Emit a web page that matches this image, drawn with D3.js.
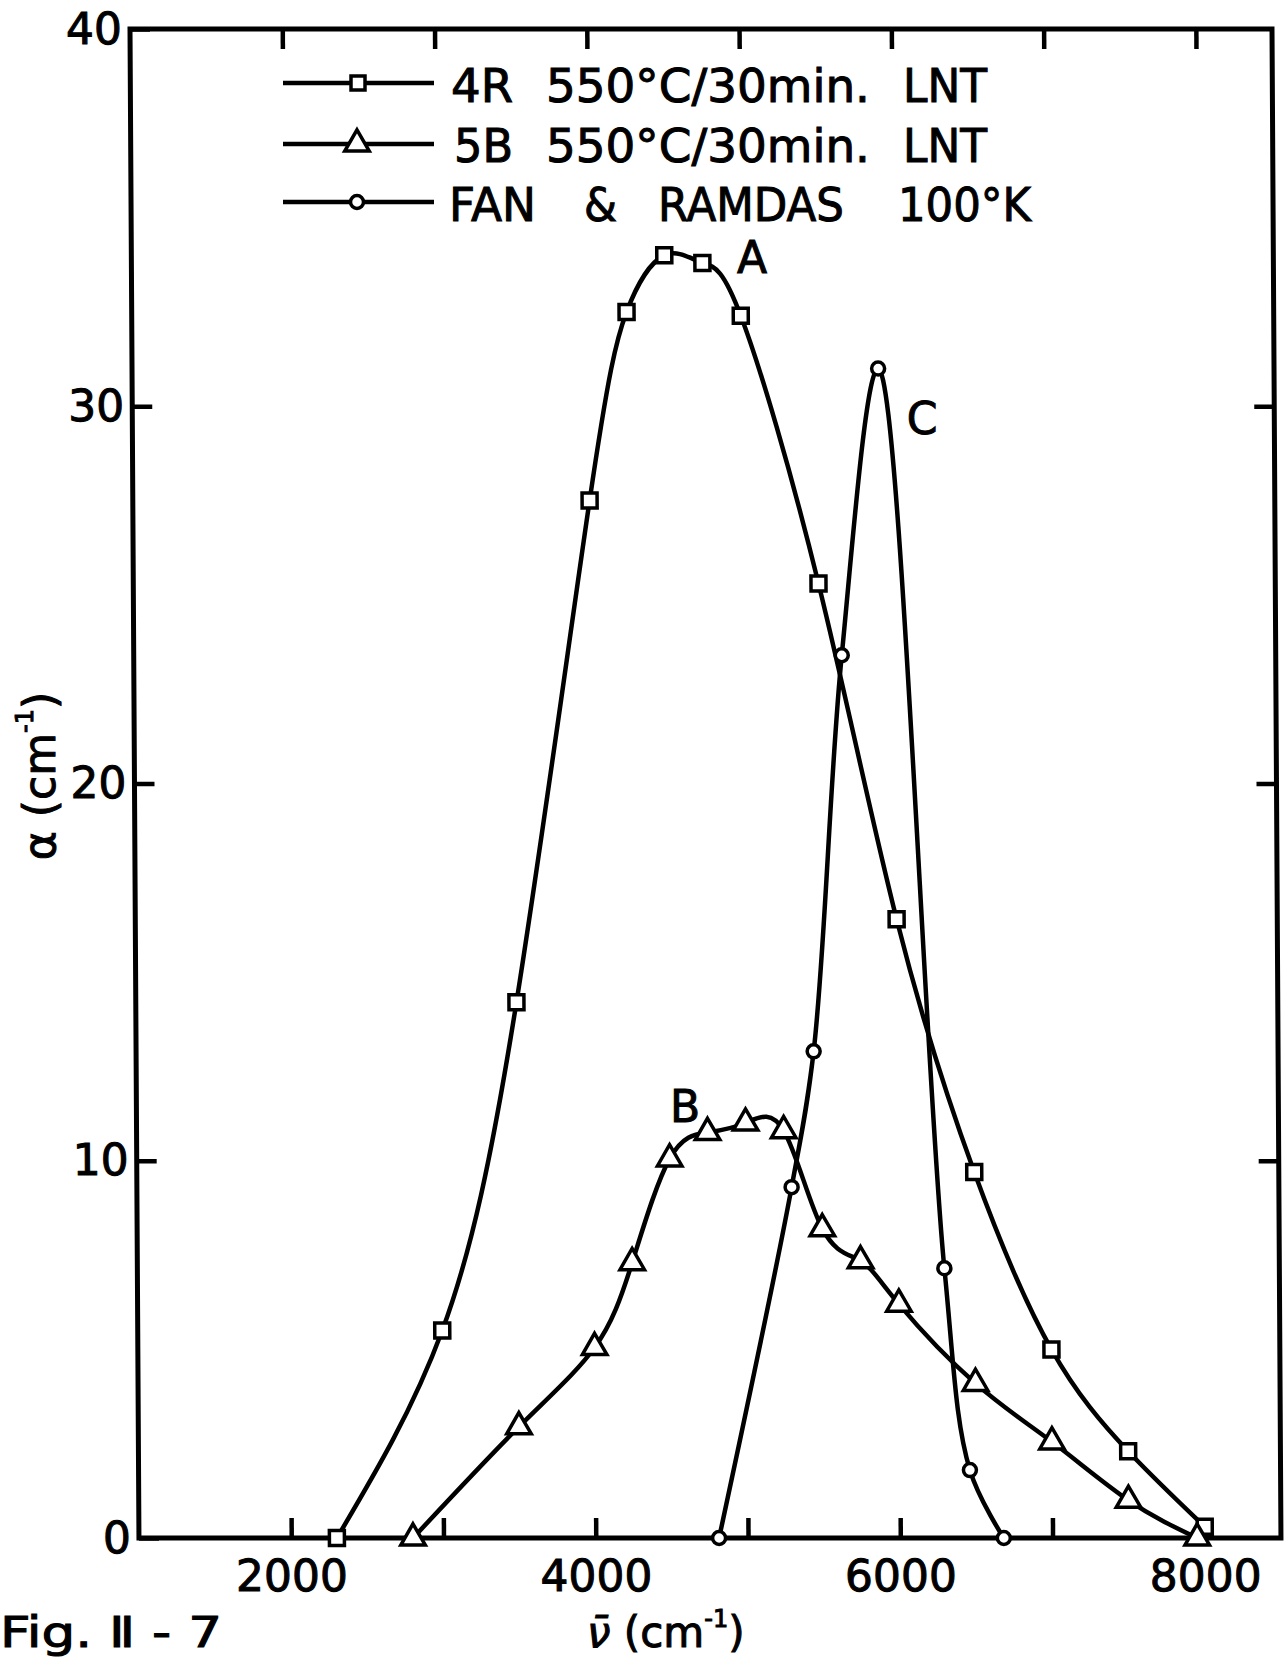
<!DOCTYPE html>
<html>
<head>
<meta charset="utf-8">
<script src="https://cdn.jsdelivr.net/npm/d3@7"></script>
<style>
  body { margin: 0; background: #fff; }
  text { font-family: "DejaVu Sans", sans-serif; fill: #000; stroke: #000; stroke-width: 1; }
</style>
</head>
<body>
<svg id="chart" width="1287" height="1659"></svg>
<script>
// tick values
const xTicks = [2000, 3000, 4000, 5000, 6000, 7000, 8000];
const xLabels = [2000, 4000, 6000, 8000];
const yTicks = [0, 10, 20, 30, 40];
const yTicksRight = [10, 20, 30];

// 4R 550°C/30min. LNT  (curve A, squares)
const nuA = [2300, 3000, 3500, 4000, 4250, 4500, 4750, 5000, 5500, 6000, 6500, 7000, 7500, 8000];
const alphaA = [0, 5.5, 14.2, 27.5, 32.5, 34.0, 33.8, 32.4, 25.3, 16.4, 9.7, 5.0, 2.3, 0.3];

// 5B 550°C/30min. LNT  (curve B, triangles)
const nuB = [2800, 3500, 4000, 4250, 4500, 4750, 5000, 5250, 5500, 5750, 6000, 6500, 7000, 7500, 7950];
const alphaB = [0, 2.95, 5.05, 7.3, 10.05, 10.75, 11.0, 10.8, 8.2, 7.35, 6.2, 4.1, 2.55, 1.0, 0];

// FAN & RAMDAS 100°K  (curve C, circles)
const nuC = [4810, 5300, 5450, 5650, 5900, 6300, 6460, 6680];
const alphaC = [0, 9.3, 12.9, 23.4, 31.0, 7.15, 1.8, 0];

const svg = d3.select("#chart");

let x = d3.scaleLinear().domain([1000, 8500]).range([130, 1272]);
let y = d3.scaleLinear().domain([0, 40]).range([1538, 29]);

// the scanned frame leans a little to the right towards the bottom
let plot = svg.append("g")
    .attr("transform", "translate(0,29) skewX(0.34) translate(0,-29)");

function styleAxis(g, labels) {
    g.select(".domain").remove();
    g.selectAll(".tick line").attr("stroke", "#000").attr("stroke-width", 4.5);
    g.selectAll(".tick text")
        .attr("font-family", "DejaVu Sans, sans-serif")
        .attr("font-size", labels ? 44 : 0)
        .attr("fill", "#000");
    g.attr("font-size", null).attr("font-family", null);
}

plot.append("g")
    .attr("transform", `translate(0,${y(0)})`)
    .call(d3.axisBottom(x).tickValues(xTicks).tickSize(-20).tickPadding(22)
        .tickFormat(d => xLabels.includes(d) ? d : ""))
    .call(g => styleAxis(g, true));

plot.append("g")
    .attr("transform", `translate(0,${y(40)})`)
    .call(d3.axisTop(x).tickValues(xTicks).tickSize(-20).tickFormat(""))
    .call(g => styleAxis(g, false));

plot.append("g")
    .attr("transform", `translate(${x(1000)},0)`)
    .call(d3.axisLeft(y).tickValues(yTicks).tickSize(-20).tickPadding(8))
    .call(g => styleAxis(g, true));

plot.append("g")
    .attr("transform", `translate(${x(8500)},0)`)
    .call(d3.axisRight(y).tickValues(yTicksRight).tickSize(-20).tickFormat(""))
    .call(g => styleAxis(g, false));

// frame
plot.append("rect")
    .attr("x", x(1000))
    .attr("y", y(40))
    .attr("width", x(8500) - x(1000))
    .attr("height", y(0) - y(40))
    .attr("fill", "none")
    .attr("stroke", "#000")
    .attr("stroke-width", 5);

let smooth = d3.line()
    .x(d => x(d[0]))
    .y(d => y(d[1]))
    .curve(d3.curveNatural);

let peaked = d3.line()
    .x(d => x(d[0]))
    .y(d => y(d[1]))
    .curve(d3.curveCatmullRom.alpha(0.5));

let seriesA = d3.zip(nuA, alphaA);
let seriesB = d3.zip(nuB, alphaB);
let seriesC = d3.zip(nuC, alphaC);

[[seriesA, smooth], [seriesB, smooth], [seriesC, peaked]].forEach(function (s) {
    plot.append("path")
        .datum(s[0])
        .attr("d", s[1])
        .attr("fill", "none")
        .attr("stroke", "#000")
        .attr("stroke-width", 4.5)
        .attr("stroke-linecap", "round");
});

let tri = d3.symbol().type(d3.symbolTriangle).size(260);

function squares(g, data) {
    g.selectAll(null).data(data).enter().append("rect")
        .attr("x", d => x(d[0]) - 7.5)
        .attr("y", d => y(d[1]) - 7.5)
        .attr("width", 15).attr("height", 15)
        .attr("fill", "#fff").attr("stroke", "#000").attr("stroke-width", 3.5);
}
function triangles(g, data) {
    g.selectAll(null).data(data).enter().append("path")
        .attr("d", tri)
        .attr("transform", d => `translate(${x(d[0])},${y(d[1])})`)
        .attr("fill", "#fff").attr("stroke", "#000").attr("stroke-width", 3.5);
}
function circles(g, data) {
    g.selectAll(null).data(data).enter().append("circle")
        .attr("cx", d => x(d[0]))
        .attr("cy", d => y(d[1]))
        .attr("r", 6.5)
        .attr("fill", "#fff").attr("stroke", "#000").attr("stroke-width", 3.5);
}
squares(plot.append("g"), seriesA);
triangles(plot.append("g"), seriesB);
circles(plot.append("g"), seriesC);

// curve letters
const curveNames = ["A", "B", "C"];
const namePos = [[752, 273], [685, 1122], [922, 434]];
svg.selectAll(".cname").data(curveNames).enter().append("text")
    .attr("class", "cname")
    .attr("x", (d, i) => namePos[i][0])
    .attr("y", (d, i) => namePos[i][1])
    .attr("text-anchor", "middle")
    .attr("font-size", 44)
    .text(d => d);

// legend
let legend = svg.append("g");
const legendY = [83, 144, 202];
legendY.forEach(function (ly) {
    legend.append("line")
        .attr("x1", 283).attr("x2", 434)
        .attr("y1", ly).attr("y2", ly)
        .attr("stroke", "#000").attr("stroke-width", 4.5);
});
legend.append("rect").attr("x", 351).attr("y", legendY[0] - 7).attr("width", 14).attr("height", 14)
    .attr("fill", "#fff").attr("stroke", "#000").attr("stroke-width", 3.5);
legend.append("path").attr("d", tri).attr("transform", `translate(357,${legendY[1]})`)
    .attr("fill", "#fff").attr("stroke", "#000").attr("stroke-width", 3.5);
legend.append("circle").attr("cx", 357).attr("cy", legendY[2]).attr("r", 6.5)
    .attr("fill", "#fff").attr("stroke", "#000").attr("stroke-width", 3.5);

// legend words: [text, x start, width, row]
const legendWords = [
    ["4R", 451, 62, 0], ["550°C/30min.", 546, 324, 0], ["LNT", 903, 84, 0],
    ["5B", 454, 59, 1], ["550°C/30min.", 546, 324, 1], ["LNT", 903, 84, 1],
    ["FAN", 449, 87, 2], ["&", 584, 33, 2], ["RAMDAS", 658, 186, 2], ["100°K", 898, 133, 2]
];
const legendBase = [102, 162, 221];
legend.selectAll("text").data(legendWords).enter().append("text")
    .attr("x", d => d[1])
    .attr("y", d => legendBase[d[3]])
    .attr("font-size", 46)
    .attr("textLength", d => d[2])
    .attr("lengthAdjust", "spacingAndGlyphs")
    .text(d => d[0]);

// axis titles
let xt = svg.append("text")
    .attr("x", 587).attr("y", 1647)
    .attr("font-size", 42);
xt.append("tspan").attr("font-style", "italic").text("ν\u0304");
xt.append("tspan").text(" (cm");
xt.append("tspan").attr("font-size", 24).attr("dy", -20).text("-1");
xt.append("tspan").attr("dy", 20).text(")");

let yt = svg.append("text")
    .attr("transform", "translate(55,776) rotate(-90)")
    .attr("text-anchor", "middle")
    .attr("font-size", 44);
yt.append("tspan").text("α (cm");
yt.append("tspan").attr("font-size", 24).attr("dy", -22).text("-1");
yt.append("tspan").attr("dy", 22).text(")");

svg.append("text")
    .attr("x", 0).attr("y", 1647)
    .attr("font-size", 42)
    .attr("textLength", 222)
    .attr("lengthAdjust", "spacingAndGlyphs")
    .text("Fig. Ⅱ - 7");
</script>
</body>
</html>
